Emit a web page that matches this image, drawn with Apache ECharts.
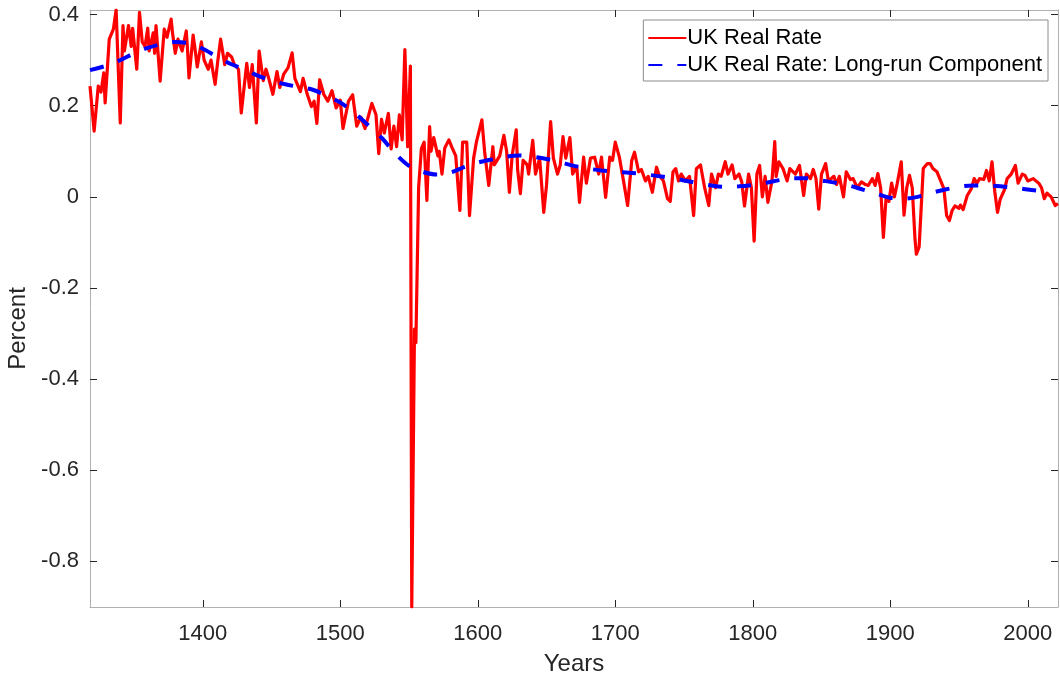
<!DOCTYPE html>
<html>
<head>
<meta charset="utf-8">
<title>UK Real Rate</title>
<script src="https://cdn.jsdelivr.net/npm/echarts@6/dist/echarts.min.js"></script>
<style>
  html, body { margin: 0; padding: 0; background: #fff; }
  #chart { width: 1060px; height: 680px; }
</style>
</head>
<body>
<div id="chart"></div>
<script>
// UK real rate (turning points)
var realYears = [
  1318,1321,1324,1326,1328,1329,1330,1332,1335,1337,1340,1342,1343,1346,1348,1349,1352,1354,1356,1358,
  1360,1361,1364,1365,1366,1369,1372,1374,1377,1378,1380,1382,1385,1388,1389,1390,1393,1395,1396,1399,
  1401,1404,1406,1409,1411,1413,1416,1418,1421,1423,1426,1428,1432,1434,1436,1439,1441,1444,1446,1448,
  1451,1454,1456,1459,1462,1465,1467,1471,1473,1476,1479,1481,1483,1485,1488,1491,1494,1497,1500,1502,
  1506,1509,1512,1515,1518,1523,1526,1528,1530,1532,1535,1537,1539,1541,1543,1545,1547,1549,1551,1552,
  1554,1555,1557,1559,1561,1563,1565,1566,1568,1571,1572,1574,1576,1579,1581,1584,1587,1589,1592,1594,
  1597,1599,1603,1605,1608,1611,1612,1616,1619,1621,1623,1625,1628,1629,1631,1633,1636,1637,1640,1642,
  1645,1648,1650,1653,1655,1658,1660,1662,1664,1667,1669,1672,1674,1677,1679,1682,1685,1688,1690,1693,
  1696,1698,1700,1703,1706,1709,1712,1714,1717,1719,1722,1724,1727,1730,1732,1735,1738,1740,1742,1744,
  1746,1748,1751,1754,1757,1759,1762,1765,1768,1770,1773,1775,1777,1780,1782,1785,1787,1790,1792,1794,
  1797,1799,1801,1803,1805,1807,1809,1811,1814,1816,1817,1819,1822,1825,1827,1831,1834,1837,1839,1842,
  1844,1846,1848,1850,1853,1855,1859,1861,1863,1866,1868,1871,1873,1876,1879,1882,1884,1887,1889,1891,
  1893,1895,1897,1899,1901,1903,1905,1908,1910,1912,1914,1916,1918,1919,1921,1924,1927,1929,1931,1934,
  1936,1939,1941,1943,1945,1947,1950,1951,1953,1956,1959,1961,1963,1965,1968,1970,1972,1974,1976,1978,
  1980,1983,1985,1988,1991,1993,1996,1998,2000,2004,2008,2010,2012,2014,2017,2020,2022
];
var realRate = [
  0.243,0.144,0.243,0.23,0.272,0.206,0.21,0.346,0.368,0.41,0.162,0.376,0.32,0.376,0.33,0.37,0.28,0.405,0.34,0.33,
  0.37,0.32,0.36,0.315,0.376,0.254,0.368,0.35,0.39,0.36,0.315,0.346,0.32,0.364,0.32,0.261,0.355,0.31,0.285,0.34,
  0.30,0.28,0.30,0.247,0.30,0.346,0.29,0.315,0.307,0.29,0.28,0.184,0.293,0.24,0.29,0.162,0.32,0.255,0.28,0.26,
  0.225,0.275,0.24,0.27,0.283,0.316,0.26,0.231,0.26,0.225,0.198,0.21,0.161,0.257,0.225,0.21,0.233,0.195,0.212,0.15,
  0.21,0.224,0.155,0.175,0.15,0.205,0.18,0.095,0.17,0.14,0.183,0.105,0.155,0.11,0.18,0.125,0.323,0.11,0.287,-0.90,
  -0.29,-0.32,0.02,0.106,0.12,-0.008,0.154,0.10,0.13,0.09,0.10,0.05,0.107,0.125,0.11,0.09,-0.03,0.12,0.12,-0.041,
  0.085,0.12,0.169,0.099,0.025,0.11,0.07,0.09,0.135,0.10,0.01,0.09,0.147,0.06,0.007,0.08,0.07,0.05,0.124,0.05,
  0.085,-0.034,0.025,0.165,0.085,0.05,0.07,0.132,0.085,0.13,0.05,0.067,-0.012,0.087,0.03,0.085,0.087,0.05,0.087,-0.001,
  0.087,0.08,0.12,0.087,0.035,-0.019,0.08,0.098,0.055,0.06,0.035,0.045,0.01,0.065,0.047,0.035,-0.004,-0.01,0.055,0.062,
  0.035,0.05,0.035,0.045,-0.041,0.062,0.07,0.02,-0.019,0.05,0.02,0.05,0.045,0.077,0.05,0.07,0.04,0.05,0.033,-0.02,
  0.05,0.02,-0.097,0.05,0.069,0.0,0.045,-0.012,0.035,0.121,0.045,0.077,0.062,0.035,0.062,0.05,0.069,0.003,0.05,0.04,
  0.06,0.04,-0.027,0.05,0.073,0.035,0.045,0.027,0.045,0.0,0.055,0.038,0.04,0.02,0.033,0.027,0.025,0.04,0.025,0.051,
  0.02,-0.089,0.0,-0.01,0.03,0.0,0.028,0.077,-0.04,0.02,0.047,0.02,-0.093,-0.126,-0.11,0.062,0.073,0.073,0.062,0.055,
  0.04,0.018,-0.041,-0.052,-0.03,-0.02,-0.025,-0.018,-0.028,0.003,0.018,0.04,0.03,0.04,0.038,0.058,0.035,0.077,0.012,-0.034,
  -0.005,0.015,0.04,0.05,0.069,0.03,0.05,0.047,0.035,0.04,0.03,0.02,-0.004,0.008,0.0,-0.019,-0.015
];

// long-run component
var trendYears = [
  1318,1330,1340,1350,1360,1370,1380,1390,1400,1410,1420,1430,1440,1450,1460,1470,1480,1490,1500,1510,
  1520,1530,1540,1550,1560,1570,1580,1590,1600,1610,1620,1630,1640,1650,1660,1670,1680,1690,1700,1710,
  1720,1730,1740,1750,1760,1770,1780,1790,1800,1810,1820,1830,1840,1850,1860,1870,1880,1890,1900,1910,
  1920,1930,1940,1950,1960,1970,1980,1990,2000,2010,2015
];
var trendRate = [
  0.278,0.288,0.30,0.315,0.327,0.335,0.34,0.337,0.325,0.308,0.292,0.28,0.266,0.255,0.247,0.241,0.235,0.222,0.207,0.185,
  0.158,0.13,0.095,0.068,0.055,0.049,0.053,0.065,0.075,0.082,0.088,0.091,0.088,0.083,0.076,0.068,0.062,0.058,0.055,0.053,
  0.05,0.046,0.042,0.036,0.03,0.025,0.022,0.023,0.026,0.031,0.037,0.041,0.041,0.036,0.031,0.025,0.016,0.007,-0.002,-0.004,
  0.0,0.009,0.016,0.022,0.025,0.025,0.023,0.02,0.016,0.013,0.012
];

var xTicks = [1400, 1500, 1600, 1700, 1800, 1900, 2000];
var yTicks = [-0.8, -0.6, -0.4, -0.2, 0, 0.2, 0.4];

function pairs(xs, ys) {
    return xs.map(function (x, i) { return [x, ys[i]]; });
}

var fontName = 'Liberation Sans';
var txtColor = '#262626';
var boxColor = '#b0b0b0';

var chart = echarts.init(document.getElementById('chart'));

var xBase = {
    type: 'value',
    min: 1318,
    max: 2022,
    splitLine: { show: false },
    axisLine: { show: true, onZero: false, lineStyle: { color: boxColor, width: 1 } },
    axisTick: { show: true, inside: true, length: 7, customValues: xTicks, lineStyle: { color: txtColor } }
};
var yBase = {
    type: 'value',
    min: -0.9,
    max: 0.41,
    splitLine: { show: false },
    axisLine: { show: true, onZero: false, lineStyle: { color: boxColor, width: 1 } },
    axisTick: { show: true, inside: true, length: 7, customValues: yTicks, lineStyle: { color: txtColor } }
};

chart.setOption({
    animation: false,
    backgroundColor: '#fff',
    textStyle: { fontFamily: fontName },
    grid: { left: 90, right: 2, top: 10, bottom: 73, containLabel: false, outerBoundsMode: 'none' },
    legend: {
        top: 20,
        right: 12,
        orient: 'vertical',
        align: 'left',
        itemWidth: 38,
        itemHeight: 14,
        itemGap: 5,
        padding: [7, 6, 5, 4],
        borderColor: '#8c8c8c',
        borderWidth: 1,
        backgroundColor: '#fff',
        itemStyle: { opacity: 0 },
        textStyle: { fontFamily: fontName, fontSize: 22, lineHeight: 22, color: '#000', padding: [0, 0, 0, -4] },
        data: ['UK Real Rate', 'UK Real Rate: Long-run Component']
    },
    xAxis: [
        Object.assign({}, xBase, {
            position: 'bottom',
            name: 'Years',
            nameLocation: 'middle',
            nameGap: 45,
            nameTextStyle: { fontFamily: fontName, fontSize: 24, color: txtColor },
            axisLabel: {
                customValues: xTicks,
                fontFamily: fontName, fontSize: 22, color: txtColor, margin: 16,
                formatter: function (v) { return String(v); }
            }
        }),
        Object.assign({}, xBase, { position: 'top', axisLabel: { show: false } })
    ],
    yAxis: [
        Object.assign({}, yBase, {
            position: 'left',
            name: 'Percent',
            nameLocation: 'middle',
            nameGap: 55,
            nameTextStyle: { fontFamily: fontName, fontSize: 24, color: txtColor, padding: [0, 40, 0, 0] },
            axisLabel: {
                customValues: yTicks,
                fontFamily: fontName, fontSize: 22, color: txtColor, margin: 11,
                formatter: function (v) { return v === 0 ? '0' : (+v.toFixed(1)).toString(); }
            }
        }),
        Object.assign({}, yBase, { position: 'right', axisLabel: { show: false } })
    ],
    series: [
        {
            name: 'UK Real Rate',
            type: 'line',
            data: pairs(realYears, realRate),
            symbol: 'none',
            clip: true,
            lineStyle: { color: '#ff0000', width: 3.2, join: 'round' },
            itemStyle: { color: '#ff0000' },
            z: 2
        },
        {
            name: 'UK Real Rate: Long-run Component',
            type: 'line',
            data: pairs(trendYears, trendRate),
            symbol: 'none',
            smooth: 0.3,
            clip: true,
            lineStyle: { color: '#0000ff', width: 4, type: [14, 15] },
            itemStyle: { color: '#0000ff' },
            z: 3
        }
    ]
});
</script>
</body>
</html>
